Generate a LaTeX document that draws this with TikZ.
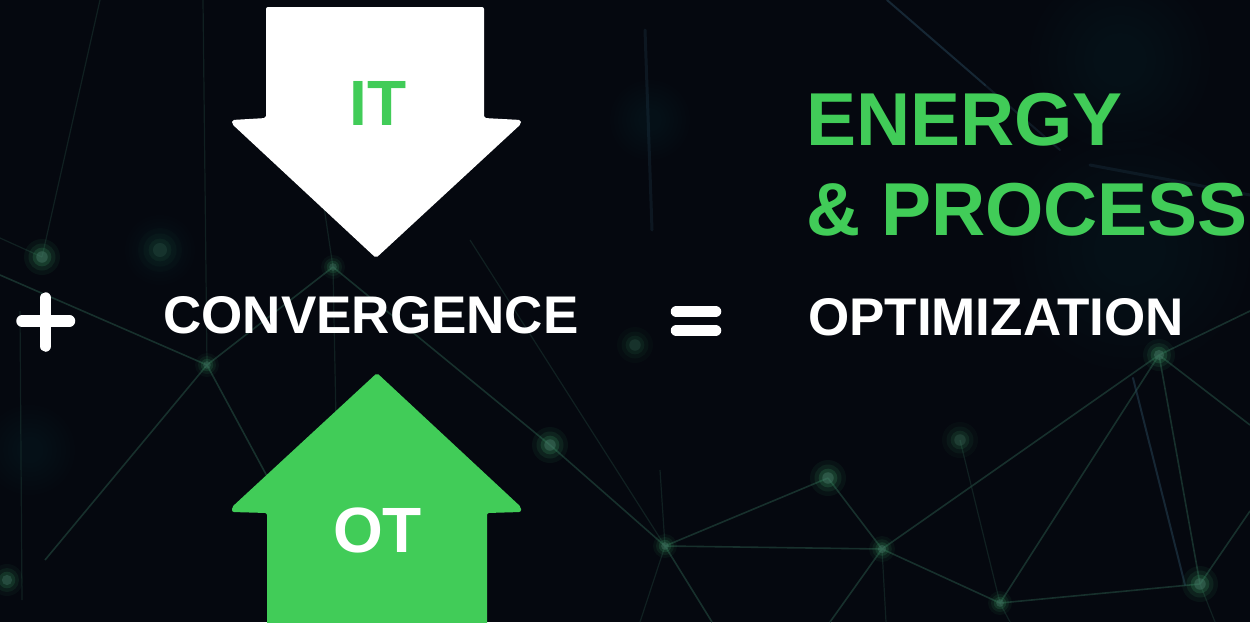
\documentclass[tikz,border=0pt]{standalone}
\usepackage{fontspec}
\setmainfont{Liberation Sans}
\definecolor{bgc}{RGB}{5,8,15}
\definecolor{netc}{RGB}{30,62,55}
\definecolor{glowc}{RGB}{55,150,95}
\definecolor{dotc}{RGB}{75,125,108}
\definecolor{brandgreen}{RGB}{65,204,88}
\definecolor{hazec}{RGB}{40,70,90}
\tikzset{
  netline/.style={draw=netc, line width=1.6pt, opacity=0.75},
  faintline/.style={draw=netc, line width=1.2pt, opacity=0.45},
  streak/.style={draw=hazec, line width=2pt, opacity=0.5, line cap=round},
  txt/.style={inner sep=0pt, anchor=base},
  bigtxt/.style={txt, font=\fontsize{53}{60}\selectfont\bfseries, text=white},
  arrowtxt/.style={txt, font=\fontsize{64}{70}\selectfont\bfseries},
  titletxt/.style={inner sep=0pt, anchor=base west, font=\fontsize{75}{90}\selectfont\bfseries, text=brandgreen},
  symbar/.style={draw=white, line width=11.5pt, line cap=round},
  downarrow/.style={fill=white, rounded corners=2pt},
  uparrow/.style={fill=brandgreen, rounded corners=2pt},
}
\begin{document}
\begin{tikzpicture}[x=1pt,y=-1pt]
\fill[bgc] (0,0) rectangle (1250,622);
\useasboundingbox (0,0) rectangle (1250,622);
\begin{scope}
\clip (0,0) rectangle (1250,622);
% soft haze blobs
\foreach \x/\y/\rr in {1130/250/120, 1120/60/90, 30/450/45, 650/120/40, 160/250/35}{
  \foreach \k in {1.0,0.9,0.8,0.7,0.6,0.5,0.4,0.3}{
    \fill[hazec, opacity=0.018] (\x,\y) circle ({\k*\rr pt});
  }
}
% network coordinates
\coordinate (nA) at (42,257);
\coordinate (nC) at (333,267);
\coordinate (nD) at (207,365);
\coordinate (nE) at (550,445);
\coordinate (nF) at (665,546);
\coordinate (nH) at (828,478);
\coordinate (nI) at (882,549);
\coordinate (nJ) at (1000,603);
\coordinate (nK) at (1159,355);
\coordinate (nL) at (1200,584);
\coordinate (nM) at (960,440);
% lines
\draw[netline] (0,275) -- (nD);
\draw[netline] (nD) -- (nC);
\draw[faintline] (203,0) -- (nD);
\draw[faintline] (100,0) -- (nA);
\draw[faintline] (0,238) -- (nA);
\draw[faintline] (320,180) -- (nC);
\draw[faintline] (nC) -- (336,420);
\draw[netline] (nC) -- (nE) -- (nF);
\draw[netline] (nD) -- (45,560);
\draw[netline] (nD) -- (268,478);
\draw[faintline] (470,240) -- (nF);
\draw[faintline] (660,470) -- (nF);
\draw[netline] (nF) -- (nI);
\draw[netline] (nF) -- (nH);
\draw[netline] (nF) -- (712,622);
\draw[faintline] (nF) -- (640,622);
\draw[netline] (nH) -- (nI);
\draw[netline] (nI) -- (nK);
\draw[netline] (nI) -- (nJ);
\draw[netline] (nI) -- (830,622);
\draw[faintline] (nI) -- (886,622);
\draw[netline] (nJ) -- (nK);
\draw[netline] (nJ) -- (nL);
\draw[faintline] (nM) -- (nJ);
\draw[netline] (nK) -- (nL);
\draw[streak] (1133,378) -- (1185,585);
\draw[netline] (nK) -- (1250,311);
\draw[netline] (nK) -- (1250,425);
\draw[netline] (nL) -- (1250,511);
\draw[faintline] (nL) -- (1215,622);
\draw[faintline] (nJ) -- (1010,622);
\draw[faintline] (20,311) -- (22,600);
% light streaks
\draw[streak] (887,0) -- (985,85);
\draw[streak, opacity=0.3] (985,85) -- (1060,150);
\draw[streak, opacity=0.25, line width=3pt] (1090,165) -- (1250,195);
\draw[streak, opacity=0.25, line width=3pt] (645,30) -- (652,230);
% glows
\foreach \x/\y/\rr/\o in {42/257/18/1, 333/267/12/0.8, 207/365/12/0.8, 550/445/18/1, 665/546/12/0.9, 635/345/18/0.45, 828/478/18/1, 882/549/13/0.9, 1000/603/12/0.9, 1159/355/16/1, 1200/584/18/1, 960/440/18/0.6, 7/580/16/0.8, 160/250/22/0.4}{
  \pgfmathsetmacro\oa{0.08*\o}
  \pgfmathsetmacro\ob{0.13*\o}
  \pgfmathsetmacro\oc{0.22*\o}
  \pgfmathsetmacro\od{0.42*\o}
  \fill[glowc, opacity=\oa] (\x,\y) circle ({\rr*1pt});
  \fill[glowc, opacity=\ob] (\x,\y) circle ({0.75*\rr*1pt});
  \fill[glowc, opacity=\oc] (\x,\y) circle ({0.52*\rr*1pt});
  \fill[dotc, opacity=\od] (\x,\y) circle ({0.32*\rr*1pt});
}
\end{scope}
% arrows
\path[downarrow] (266,7) -- (484,7) -- (484,118) -- (521,120) -- (521,124) -- (376,258) -- (232,124) -- (232,120) -- (266,118) -- cycle;
\path[uparrow] (377,373) -- (521,507) -- (521,512) -- (487,513) -- (487,630) -- (267,630) -- (267,513) -- (232,512) -- (232,507) -- cycle;
\node[arrowtxt, text=brandgreen] (it) at (378,125) {IT};
\node[arrowtxt, text=white] (ot) at (377.5,552) {OT};
% equation line
\draw[symbar] (22,321) -- (69.5,321);
\draw[symbar] (45.6,298) -- (45.6,346);
\node[bigtxt] (conv) at (371,333) {CONVERGENCE};
\draw[symbar] (676.5,311.5) -- (715.5,311.5);
\draw[symbar] (676.5,330.5) -- (715.5,330.5);
\node[bigtxt] (opt) at (996,335) {OPTIMIZATION};
\node[titletxt] (energy) at (806,145) {ENERGY};
\node[titletxt] (process) at (806,235) {\& PROCESS};
\end{tikzpicture}
\end{document}
